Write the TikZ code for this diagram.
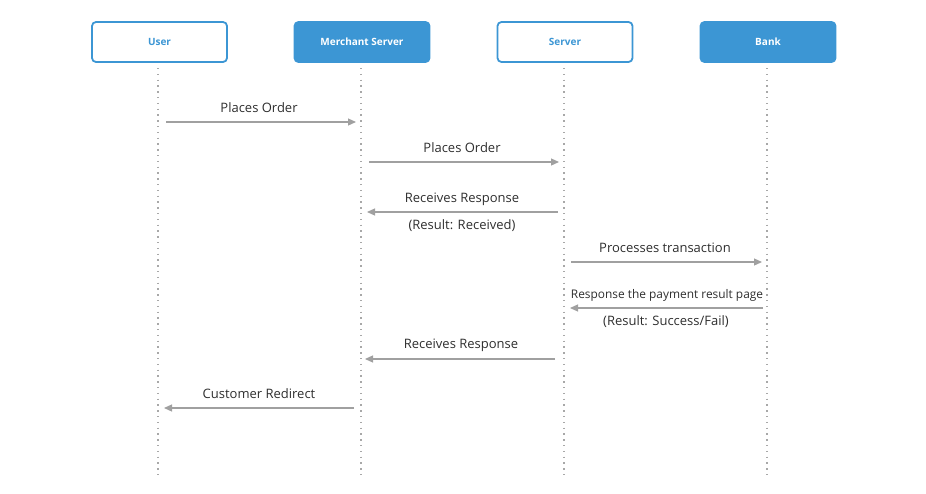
\documentclass[tikz,border=0pt]{standalone}
\usepackage{fontspec}
\setmainfont{Open Sans}
\usetikzlibrary{arrows.meta}
\definecolor{hdrblue}{HTML}{3C96D4}
\definecolor{arrgray}{HTML}{A0A0A0}
\definecolor{dotgray}{HTML}{A8A8A8}
\definecolor{txtgray}{HTML}{2E2E2E}
\begin{document}
\begin{tikzpicture}[x=1pt,y=-1pt,
  actoropen/.style={draw=hdrblue,line width=1.8pt,rounded corners=4pt,fill=white,minimum width=135pt,minimum height=40pt,inner sep=0pt,font=\fontsize{10}{12}\selectfont\bfseries,text=hdrblue},
  actorfill/.style={draw=hdrblue,line width=1.8pt,rounded corners=4pt,fill=hdrblue,minimum width=135pt,minimum height=40pt,inner sep=0pt,font=\fontsize{10}{12}\selectfont\bfseries,text=white},
  life/.style={draw=dotgray,line width=1.3pt,dash pattern=on 1.3pt off 4.5pt},
  msg/.style={draw=arrgray,line width=1.2pt,-{Triangle[length=8pt,width=7pt]}},
  lbl/.style={font=\fontsize{13}{15}\selectfont,text=txtgray,inner sep=0pt,text height=9.5pt,text depth=3pt},
  lbls/.style={font=\fontsize{11.9}{14}\selectfont,text=txtgray,inner sep=0pt,text height=8.8pt,text depth=2.8pt}
]
\useasboundingbox (0,0) rectangle (926,493);
\node[actoropen] (user) at (159.5,42) {User};
\node[actorfill] (merch) at (362,42) {Merchant Server};
\node[actoropen] (serv) at (565,42) {Server};
\node[actorfill] (bank) at (768,42) {Bank};
\foreach \n/\x in {user/158,merch/361,serv/564,bank/767}{
  \coordinate (\n top) at (\x,68);
  \coordinate (\n bot) at (\x,475);
  \draw[life] (\n top) -- (\n bot);
}
% message endpoints
\coordinate (a1s) at (166,122); \coordinate (a1e) at (356,122);
\coordinate (a2s) at (369,162); \coordinate (a2e) at (559,162);
\coordinate (a3s) at (558,212); \coordinate (a3e) at (367,212);
\coordinate (a4s) at (571,262); \coordinate (a4e) at (762,262);
\coordinate (a5s) at (763,308); \coordinate (a5e) at (570,308);
\coordinate (a6s) at (555,359); \coordinate (a6e) at (365,359);
\coordinate (a7s) at (354,408); \coordinate (a7e) at (164,408);
\draw[msg] (a1s) -- (a1e);
\draw[msg] (a2s) -- (a2e);
\draw[msg] (a3s) -- (a3e);
\draw[msg] (a4s) -- (a4e);
\draw[msg] (a5s) -- (a5e);
\draw[msg] (a6s) -- (a6e);
\draw[msg] (a7s) -- (a7e);
\node[lbl] (l1) at (259,109) {Places Order};
\node[lbl] (l2) at (462,149) {Places Order};
\node[lbl] (l3) at (462,199) {Receives Response};
\node[lbl] (l3b) at (462,226) {(Result: Received)};
\node[lbl] (l4) at (665,249) {Processes transaction};
\node[lbls] (l5) at (667,295) {Response the payment result page};
\node[lbl] (l5b) at (666,322) {(Result: Success/Fail)};
\node[lbl] (l6) at (461,345) {Receives Response};
\node[lbl] (l7) at (259,395) {Customer Redirect};
\end{tikzpicture}
\end{document}
